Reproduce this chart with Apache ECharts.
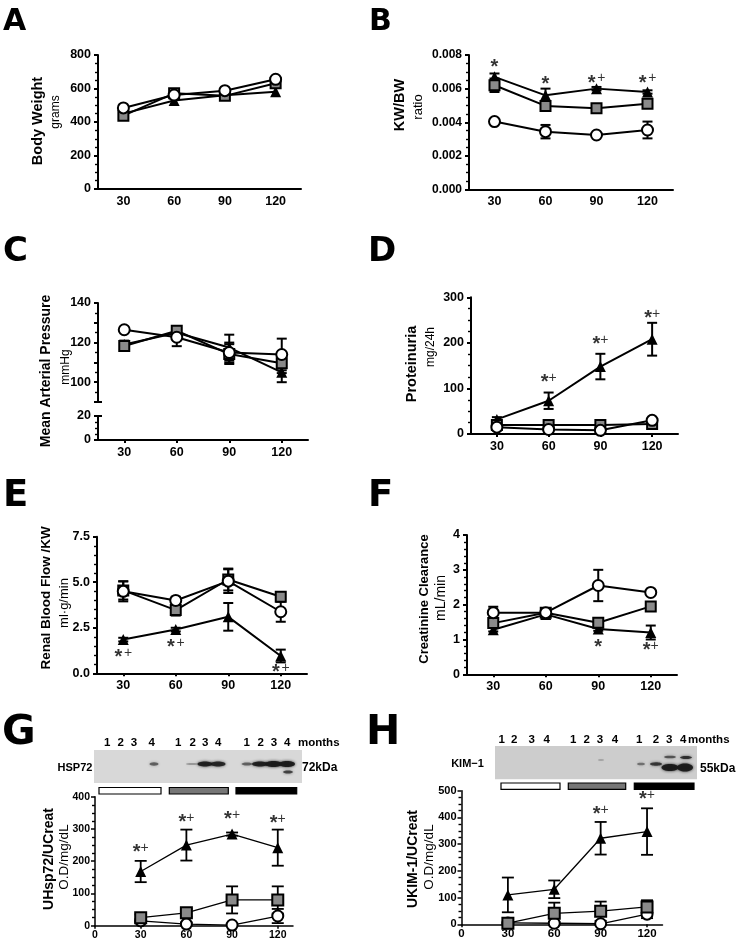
<!DOCTYPE html>
<html><head><meta charset="utf-8">
<script src="https://cdn.jsdelivr.net/npm/echarts@6/dist/echarts.min.js"></script>
<style>html,body{margin:0;padding:0;background:#fff}#c{width:737px;height:945px}</style>
</head><body><div id="c"></div>
<script>
const FONT = '"Liberation Sans", Arial, Helvetica, sans-serif';
const days = ['30', '60', '90', '120'];
const dayNums = [30, 60, 90, 120];
const xTickValues = [0, 30, 60, 90, 120];

// A – Body Weight (grams)
const A_circle = [484, 561, 587, 655];
const A_square = [438, 571, 556, 631];
const A_triangle = [450, 528, 560, 580];

// B – KW/BW ratio
const B_circle = [0.00404, 0.00344, 0.00324, 0.00354];
const B_circleErr = [0.0001, 0.0004, 0.0001, 0.0005];
const B_square = [0.0062, 0.00497, 0.00483, 0.0051];
const B_squareErr = [0.0004, 0.0002, 0.0001, 0.0002];
const B_triangle = [0.0067, 0.0056, 0.0060, 0.0058];
const B_triangleErr = [0.0002, 0.0004, 0.0001, 0.0001];
const B_marks = ['*', '*', '* +', '* +'];
const B_markY = [0.0075, 0.0065, 0.0066, 0.0066];

// C – Mean Arterial Pressure (mmHg)
const C_circle = [126.5, 122.7, 115, 114];
const C_circleErr = [1, 4.5, 5, 8];
const C_square = [118.3, 126, 114.2, 109.6];
const C_squareErr = [2, 2, 5, 5];
const C_triangle = [119, 125, 117.5, 105];
const C_triangleErr = [2, 3, 6.5, 5];

// D – Proteinuria (mg/24h)
const D_circle = [15, 10, 8, 30];
const D_circleErr = [3, 2, 2, 5];
const D_square = [20, 20, 20, 22];
const D_squareErr = [3, 3, 3, 3];
const D_triangle = [32, 73, 148, 208];
const D_triangleErr = [5, 18, 28, 36];
const D_marks = ['', '*+', '*+', '*+'];
const D_markY = [null, 123, 206, 263];

// E – Renal Blood Flow /KW (ml·g/min)
const E_circle = [4.5, 4.0, 5.06, 3.38];
const E_circleErr = [0.55, 0.2, 0.65, 0.55];
const E_square = [4.55, 3.47, 5.15, 4.2];
const E_squareErr = [0.5, 0.3, 0.6, 0.2];
const E_triangle = [1.85, 2.4, 3.1, 0.95];
const E_triangleErr = [0.1, 0.1, 0.76, 0.35];
const E_marks = ['* +', '* +', '', '* +'];
const E_markY = [1.1, 1.68, null, 0.31];

// F – Creatinine Clearance (mL/min)
const F_circle = [1.77, 1.77, 2.55, 2.35];
const F_circleErr = [0.17, 0.05, 0.45, 0.05];
const F_square = [1.47, 1.77, 1.48, 1.95];
const F_squareErr = [0.1, 0.05, 0.05, 0.05];
const F_triangle = [1.28, 1.72, 1.3, 1.2];
const F_triangleErr = [0.05, 0.05, 0.05, 0.2];
const F_marks = ['', '', '*', '*+'];
const F_markY = [null, null, 0.91, 0.82];

// G – UHsp72/UCreat (O.D/mg/dL)
const G_circle = [15, 5, 2, 30];
const G_circleErr = [5, 5, 2, 22];
const G_square = [25, 40, 80, 80];
const G_squareErr = [10, 12, 42, 42];
const G_triangle = [168, 250, 284, 242];
const G_triangleErr = [33, 48, 5, 56];
const G_marks = ['*+', '*+', '*+', '*+'];
const G_markY = [240, 335, 343, 330];

// H – UKIM-1/UCreat (O.D/mg/dL)
const H_circle = [5, 4, 2, 38];
const H_circleErr = [5, 5, 2, 15];
const H_square = [4, 41, 49, 65];
const H_squareErr = [3, 40, 36, 25];
const H_triangle = [110, 131, 322, 347];
const H_triangleErr = [65, 33, 61, 87];
const H_marks = ['', '', '*+', '*+'];
const H_markY = [null, null, 428, 485];

// Western blot lane labels
const laneLabels = ['1', '2', '3', '4', '1', '2', '3', '4', '1', '2', '3', '4'];

const grids = [], xAxis = [], yAxis = [], series = [], graphic = [];

function addGrid(left, top, width, height) {
  grids.push({ left, top, width, height, containLabel: false, outerBoundsMode: 'none' });
  return grids.length - 1;
}
function addCatX(gi, o) {
  o = o || {};
  xAxis.push({
    gridIndex: gi, type: 'category', data: days, boundaryGap: true, show: o.show !== false, position: 'bottom',
    axisLine: { show: true, lineStyle: { color: '#000', width: 2 } },
    axisTick: { show: !!o.ticks, alignWithLabel: true, length: 3, lineStyle: { color: '#000', width: 2 } },
    axisLabel: { interval: 0, color: '#000', fontFamily: FONT, fontWeight: 'bold', fontSize: o.fs || 12.5, margin: 6 },
    splitLine: { show: false }
  });
  return xAxis.length - 1;
}
function addValX(gi, fs) {
  xAxis.push({
    gridIndex: gi, type: 'value', min: 0, max: 130, interval: 30, position: 'bottom',
    axisLine: { lineStyle: { color: '#000', width: 1.5 } },
    axisTick: { show: true, length: 3, customValues: xTickValues, lineStyle: { color: '#000', width: 1.5 } },
    axisLabel: { customValues: xTickValues, formatter: v => (v % 30 === 0 ? String(v) : ''), color: '#000', fontFamily: FONT, fontWeight: 'bold', fontSize: fs, margin: 4 },
    splitLine: { show: false }
  });
  return xAxis.length - 1;
}
function addY(gi, o) {
  const ax = {
    gridIndex: gi, type: 'value', min: o.min, max: o.max, position: 'left', offset: 0,
    axisLine: { show: o.line !== false, lineStyle: { color: '#000', width: o.lw || 2 } },
    axisTick: { show: true, length: 4, inside: !!o.inside, lineStyle: { color: '#000', width: o.lw || 2 } },
    minorTick: { show: !!o.minor, splitNumber: o.minor || 2, length: 3, lineStyle: { color: '#000', width: 1.4 } },
    axisLabel: { show: o.labels !== false, color: '#000', fontFamily: FONT, fontWeight: 'bold', fontSize: o.fs || 12.5, margin: o.margin || 7 },
    splitLine: { show: false }
  };
  if (o.interval != null) ax.interval = o.interval;
  if (o.fmt) ax.axisLabel.formatter = o.fmt;
  if (o.tickValues) ax.axisTick.customValues = o.tickValues;
  yAxis.push(ax);
  return yAxis.length - 1;
}
function errRender(cap, lw) {
  return function (params, api) {
    const x = api.value(0), y = api.value(1), e = api.value(2);
    const t = api.coord([x, y + e]), b = api.coord([x, y - e]);
    const st = { stroke: '#000', lineWidth: lw };
    return {
      type: 'group', children: [
        { type: 'line', shape: { x1: t[0], y1: t[1], x2: b[0], y2: b[1] }, style: st },
        { type: 'line', shape: { x1: t[0] - cap, y1: t[1], x2: t[0] + cap, y2: t[1] }, style: st },
        { type: 'line', shape: { x1: b[0] - cap, y1: b[1], x2: b[0] + cap, y2: b[1] }, style: st }
      ]
    };
  };
}
const SHAPES = {
  circle: { symbol: 'circle', color: '#fff', border: 2, size: 11 },
  square: { symbol: 'rect', color: '#8a8a8a', border: 2, size: 10 },
  triangle: { symbol: 'triangle', color: '#000', border: 0, size: 11 }
};
function addSet(xi, yi, xs, vals, errs, shape, o) {
  o = o || {};
  if (errs) {
    series.push({
      type: 'custom', xAxisIndex: xi, yAxisIndex: yi, renderItem: errRender(o.cap || 5, o.elw || 2),
      data: vals.map((v, i) => [xs[i], v, errs[i]]), encode: { x: 0, y: 1 }, z: 2, silent: true, clip: false
    });
  }
  const s = SHAPES[shape];
  series.push({
    type: 'line', xAxisIndex: xi, yAxisIndex: yi, data: vals.map((v, i) => [xs[i], v]),
    symbol: s.symbol, symbolSize: (o.sizes && o.sizes[shape]) || s.size, showAllSymbol: true,
    itemStyle: { color: s.color, borderColor: '#000', borderWidth: s.border },
    lineStyle: { color: '#000', width: o.lw || 2 }, z: 3, silent: true, emphasis: { disabled: true }
  });
}
function addMarks(xi, yi, xs, ys, texts) {
  const data = [];
  ys.forEach((y, i) => { if (y != null) data.push({ value: [xs[i], y], name: texts[i] }); });
  series.push({
    type: 'scatter', xAxisIndex: xi, yAxisIndex: yi, symbolSize: 1, silent: true, z: 5,
    itemStyle: { color: 'rgba(0,0,0,0)' }, data,
    label: {
      show: true, position: 'inside', color: '#000',
      formatter: p => p.name.replace(/\*/g, '{s|*}').replace(/\+/g, '{p|+}').replace(/ /g, '{g| }'),
      rich: {
        s: { fontFamily: FONT, fontWeight: 'bold', fontSize: 20, lineHeight: 20, padding: [9, 0, 0, 0], color: '#000' },
        p: { fontFamily: FONT, fontSize: 14, lineHeight: 18, color: '#000' },
        g: { fontFamily: FONT, fontSize: 6, lineHeight: 10, color: '#000' }
      }
    }
  });
}
function vText(x, y, text, size, bold) {
  graphic.push({
    type: 'text', x, y, rotation: Math.PI / 2, silent: true,
    style: { text, fill: '#000', font: (bold ? 'bold ' : '') + size + 'px ' + FONT, align: 'center', verticalAlign: 'middle', textAlign: 'center', textVerticalAlign: 'middle' }
  });
}
function hText(x, y, text, size, bold, align, family) {
  graphic.push({
    type: 'text', x, y, silent: true,
    style: { text, fill: '#000', font: (bold ? 'bold ' : '') + size + 'px ' + (family || FONT), align: align || 'center', verticalAlign: 'middle', textAlign: align || 'center', textVerticalAlign: 'middle' }
  });
}
const idx = [0, 1, 2, 3];

// ---------- Panel A ----------
const gA = addGrid(98, 55, 203, 134);
const xA = addCatX(gA, {});
const yA = addY(gA, { min: 0, max: 800, interval: 200, minor: 4 });
addSet(xA, yA, idx, A_triangle, null, 'triangle');
addSet(xA, yA, idx, A_square, null, 'square');
addSet(xA, yA, idx, A_circle, null, 'circle');

// ---------- Panel B ----------
const gB = addGrid(469, 55, 204, 134.5);
const xB = addCatX(gB, {});
const yB = addY(gB, { min: 0, max: 0.008, interval: 0.002, minor: 4, fs: 12, fmt: v => v.toFixed(3) });
addSet(xB, yB, idx, B_triangle, B_triangleErr, 'triangle');
addSet(xB, yB, idx, B_square, B_squareErr, 'square');
addSet(xB, yB, idx, B_circle, B_circleErr, 'circle');
addMarks(xB, yB, idx, B_markY, B_marks);

// ---------- Panel C (broken axis) ----------
const gC1 = addGrid(98, 303, 210, 99);
const xC1 = addCatX(gC1, { show: false });
const yC1 = addY(gC1, { min: 90, max: 140, interval: 10, minor: 2, fmt: v => (v >= 100 && v % 20 === 0 ? String(v) : '') });
addY(gC1, { min: 90, max: 140, line: false, labels: false, inside: true, tickValues: [90] });
const gC2 = addGrid(98, 416, 210, 24);
const xC2 = addCatX(gC2, { ticks: true });
addY(gC2, { min: 0, max: 20, interval: 20, minor: 4 });
addY(gC2, { min: 0, max: 20, line: false, labels: false, inside: true, tickValues: [20] });
addSet(xC1, yC1, idx, C_triangle, C_triangleErr, 'triangle');
addSet(xC1, yC1, idx, C_square, C_squareErr, 'square');
addSet(xC1, yC1, idx, C_circle, C_circleErr, 'circle');

// ---------- Panel D ----------
const gD = addGrid(471, 297.3, 207, 136.7);
const xD = addCatX(gD, { ticks: true });
const yD = addY(gD, { min: 0, max: 300, interval: 100, minor: 4 });
addSet(xD, yD, idx, D_triangle, D_triangleErr, 'triangle');
addSet(xD, yD, idx, D_square, D_squareErr, 'square');
addSet(xD, yD, idx, D_circle, D_circleErr, 'circle');
addMarks(xD, yD, idx, D_markY, D_marks);

// ---------- Panel E ----------
const gE = addGrid(97, 536.7, 210, 136.6);
const xE = addCatX(gE, { ticks: true });
const yE = addY(gE, { min: 0, max: 7.5, interval: 2.5, minor: 5, fmt: v => v.toFixed(1) });
addSet(xE, yE, idx, E_triangle, E_triangleErr, 'triangle');
addSet(xE, yE, idx, E_square, E_squareErr, 'square');
addSet(xE, yE, idx, E_circle, E_circleErr, 'circle');
addMarks(xE, yE, idx, E_markY, E_marks);

// ---------- Panel F ----------
const gF = addGrid(467, 535, 210, 139.3);
const xF = addCatX(gF, { ticks: true });
const yF = addY(gF, { min: 0, max: 4, interval: 1, minor: 5 });
addSet(xF, yF, idx, F_triangle, F_triangleErr, 'triangle');
addSet(xF, yF, idx, F_square, F_squareErr, 'square');
addSet(xF, yF, idx, F_circle, F_circleErr, 'circle');
addMarks(xF, yF, idx, F_markY, F_marks);

// ---------- Panel G ----------
const gG = addGrid(95, 796.7, 198, 129);
const xG = addValX(gG, 10.5);
const yG = addY(gG, { min: 0, max: 400, interval: 100, minor: 4, lw: 1.5, fs: 10.5, margin: 5 });
const ghOpt = { lw: 1.3, elw: 1.8, cap: 6, sizes: { square: 11 } };
addSet(xG, yG, dayNums, G_triangle, G_triangleErr, 'triangle', ghOpt);
addSet(xG, yG, dayNums, G_circle, G_circleErr, 'circle', ghOpt);
addSet(xG, yG, dayNums, G_square, G_squareErr, 'square', ghOpt);
addMarks(xG, yG, dayNums, G_markY, G_marks);

// ---------- Panel H ----------
const gH = addGrid(461.5, 790.7, 201, 133.6);
const xH = addValX(gH, 11.5);
const yH = addY(gH, { min: 0, max: 500, interval: 100, minor: 4, lw: 1.5, fs: 11, margin: 5 });
addSet(xH, yH, dayNums, H_triangle, H_triangleErr, 'triangle', ghOpt);
addSet(xH, yH, dayNums, H_circle, H_circleErr, 'circle', ghOpt);
addSet(xH, yH, dayNums, H_square, H_squareErr, 'square', ghOpt);
addMarks(xH, yH, dayNums, H_markY, H_marks);

// ---------- Panel letters ----------
const LF = '"DejaVu Sans", ' + FONT;
hText(3, 22, 'A', 30, true, 'left', LF);
hText(369, 22, 'B', 30, true, 'left', LF);
hText(3, 252, 'C', 34, true, 'left', LF);
hText(368, 252, 'D', 34, true, 'left', LF);
hText(3, 496, 'E', 37, true, 'left', LF);
hText(368, 496, 'F', 37, true, 'left', LF);
hText(2, 733, 'G', 41, true, 'left', LF);
hText(366, 733, 'H', 41, true, 'left', LF);

// ---------- Axis titles ----------
vText(38, 121, 'Body Weight', 14.5, true); vText(56, 112, 'grams', 12, false);
vText(400, 105, 'KW/BW', 14.5, true); vText(418, 107, 'ratio', 13, false);
vText(46, 371, 'Mean Arterial Pressure', 14, true); vText(66, 367, 'mmHg', 12, false);
vText(412, 364, 'Proteinuria', 14.5, true); vText(431, 347, 'mg/24h', 12, false);
vText(46.5, 598, 'Renal Blood Flow /KW', 13.5, true); vText(64, 603, 'ml·g/min', 13, false);
vText(424.5, 599, 'Creatinine Clearance', 13, true); vText(441, 598, 'mL/min', 14, false);
vText(49, 859, 'UHsp72/UCreat', 14, true); vText(64, 857, 'O.D/mg/dL', 13.5, false);
vText(413, 859, 'UKIM-1/UCreat', 14, true); vText(429, 857, 'O.D/mg/dL', 13.5, false);

// ---------- Western blots ----------
function blot(b) {
  graphic.push({ type: 'rect', silent: true, shape: { x: b.x, y: b.y, width: b.w, height: b.h }, style: { fill: b.bg } });
  b.bands.forEach(d => {
    graphic.push({ type: 'ellipse', silent: true, shape: { cx: d[0], cy: d[1], rx: d[2] / 2, ry: d[3] / 2 },
      style: { fill: 'rgba(25,25,25,' + d[4] + ')', shadowBlur: 3, shadowColor: 'rgba(25,25,25,' + d[4] + ')' } });
  });
  b.lanes.forEach((lx, i) => hText(lx, b.laneY, laneLabels[i], 11.5, true));
  hText(b.monthsX, b.laneY, 'months', 11.5, true, 'left');
  hText(b.labelX, b.labelY, b.label, 11, true);
  hText(b.kdaX, b.kdaY, b.kda, 12, true, 'left');
  const fills = ['#fff', '#777', '#000'];
  b.bars.forEach((r, i) => graphic.push({ type: 'rect', silent: true, shape: { x: r[0], y: b.barY, width: r[1] - r[0], height: b.barH },
    style: { fill: fills[i], stroke: '#000', lineWidth: 1.2 } }));
}
blot({
  x: 94, y: 750, w: 208, h: 33, bg: '#d8d8d8',
  bands: [[154, 764, 9, 3.5, 0.55], [192, 764, 12, 2, 0.3], [205, 764, 15, 5, 0.9], [218, 764, 15, 5, 0.85],
          [247, 764, 11, 3, 0.55], [260, 764, 16, 5, 0.9], [273.5, 764, 17, 6, 0.95], [287, 764, 16, 6, 0.95], [288, 772, 10, 3, 0.7]],
  lanes: [107.3, 120.7, 134, 151.7, 178.3, 192.7, 205.3, 218.3, 246.7, 260.7, 274, 287.3], laneY: 743, monthsX: 298,
  label: 'HSP72', labelX: 75, labelY: 767.5, kda: '72kDa', kdaX: 302, kdaY: 767.5,
  bars: [[99, 161], [169.3, 228.3], [236, 296.7]], barY: 787.5, barH: 6.5
});
blot({
  x: 495, y: 746, w: 202, h: 33.3, bg: '#cdcdcd',
  bands: [[601, 760, 6, 2, 0.2], [641, 764, 8, 2.5, 0.45], [656, 764, 12, 3.5, 0.75], [670, 767.5, 17, 7, 0.95], [670, 757, 12, 2.5, 0.6],
          [685, 767.5, 16, 8, 0.95], [686, 757.5, 12, 3, 0.8]],
  lanes: [501.7, 514.3, 531.7, 546.7, 573.3, 586.7, 600, 615, 639.3, 656, 669.3, 683.3], laneY: 740, monthsX: 688,
  label: 'KIM\u22121', labelX: 467.5, labelY: 764, kda: '55kDa', kdaX: 700, kdaY: 769,
  bars: [[501, 560], [568.3, 625.7], [634.3, 694]], barY: 783, barH: 6.3
});

const chart = echarts.init(document.getElementById('c'), null, { renderer: 'canvas' });
chart.setOption({
  animation: false, backgroundColor: '#fff', textStyle: { fontFamily: FONT },
  grid: grids, xAxis, yAxis, series, graphic: { elements: graphic }
});
</script></body></html>
